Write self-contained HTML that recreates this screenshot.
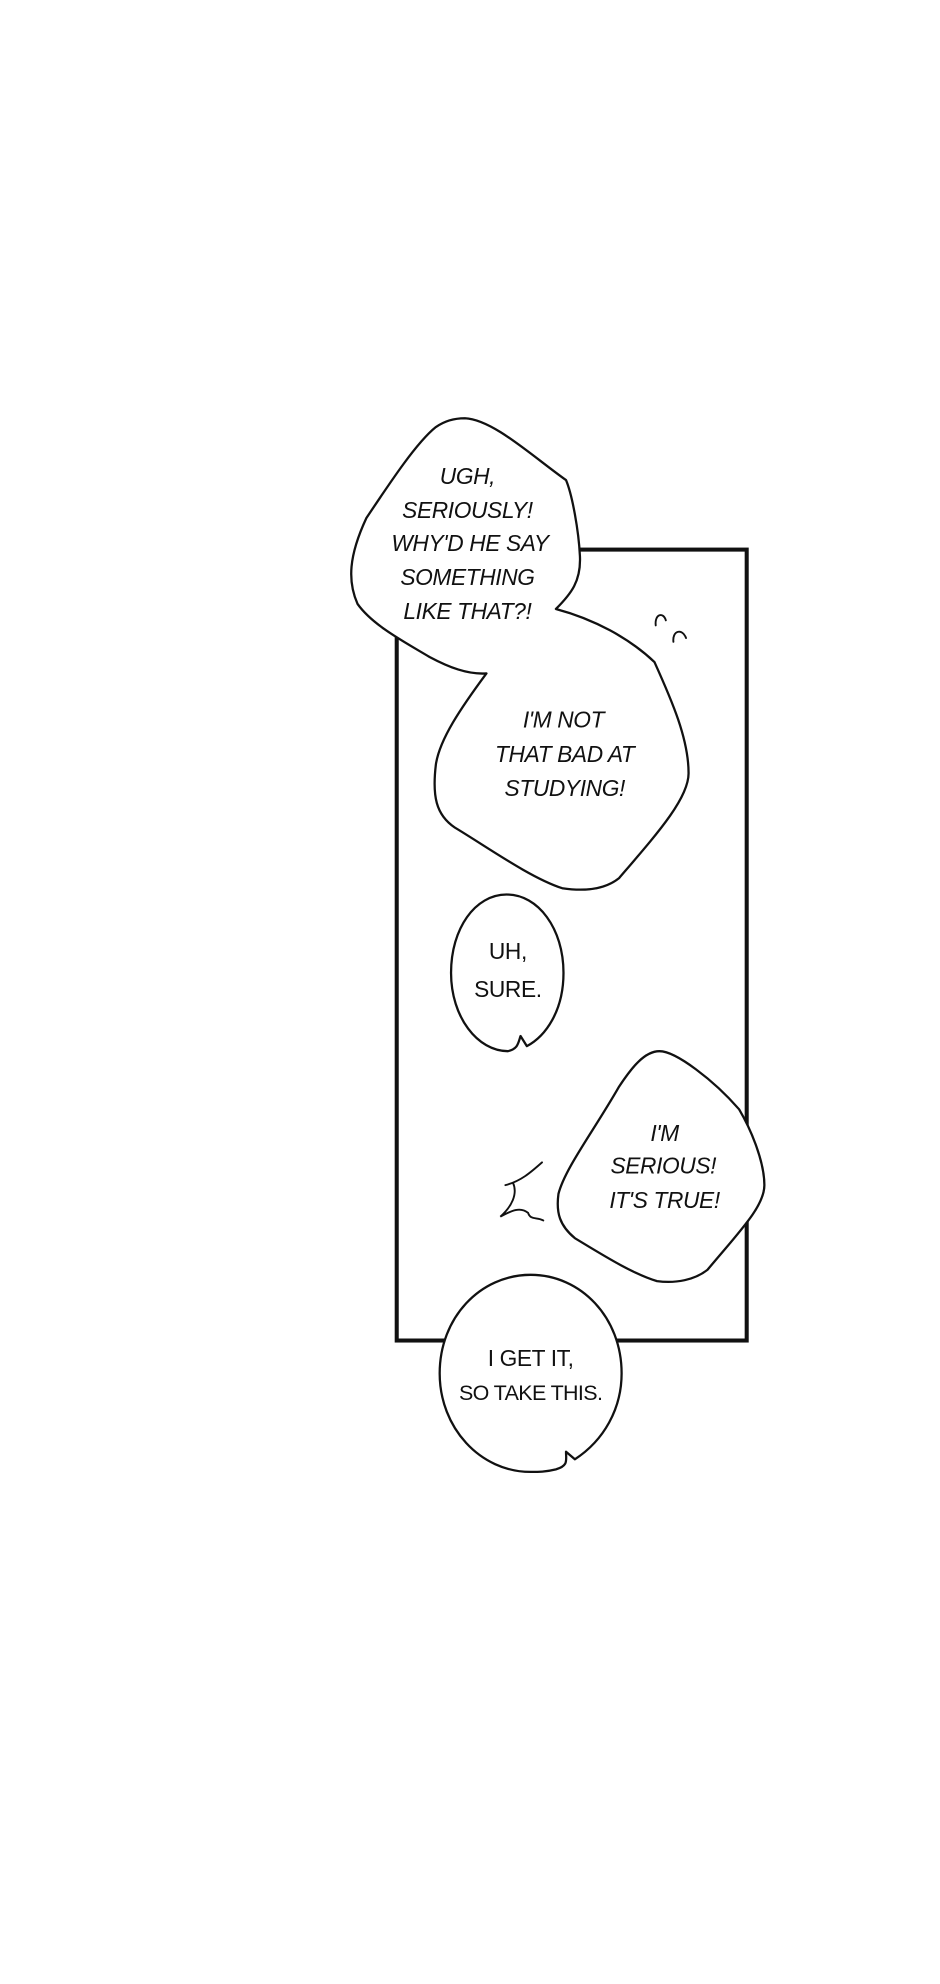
<!DOCTYPE html>
<html><head><meta charset="utf-8"><style>
html,body{margin:0;padding:0;background:#fff;}
svg{display:block;}
text{font-family:"Liberation Sans",sans-serif;font-size:18px;text-anchor:middle;fill:#111;letter-spacing:-0.3px;}
.i{font-style:italic;}
</style></head><body>
<svg width="940" height="1984" viewBox="0 0 744 1570.3" preserveAspectRatio="none" xmlns="http://www.w3.org/2000/svg">
<rect x="314" y="435" width="277" height="626" fill="#fff" stroke="#111" stroke-width="3.2"/>
<g fill="#fff" stroke="#111" stroke-width="1.8" stroke-linejoin="round">
<path d="M368,331 C390,332 420,360 448,380 C453,392 458,420 459,440 C460,460 452,470 440,482 C470,490 498,505 518,524 C532,555 545,585 545,612 C545,632 520,660 490,695 C480,703 465,706 445,703 C420,695 385,670 360,655 C345,645 342,630 345,605 C348,585 365,560 385,533 C370,534 355,528 340,520 C320,508 295,495 283,478 C275,460 276,440 290,410 C310,380 330,350 345,338 C352,333 360,331 368,331 Z"/>
<path d="M401,708 C426,708 446,735 446,770 C446,800 432,820 417,828 L412,820 C410,826 410,830 402,832 C378,832 357,805 357,770 C357,735 376,708 401,708 Z"/>
<path d="M522,832 C535,832 565,855 585,878 C595,895 605,920 605,938 C605,955 585,975 560,1005 C550,1013 535,1016 520,1014 C500,1008 475,992 455,980 C443,970 440,960 442,945 C447,925 470,895 490,860 C500,845 510,832 522,832 Z"/>
<path d="M420,1009 C460,1009 492,1043 492,1087 C492,1115 478,1140 455,1155 L448,1149 C448,1156 450,1160 440,1163 C432,1165 426,1165 420,1165 C380,1165 348,1130 348,1087 C348,1043 380,1009 420,1009 Z"/>
</g>
<g fill="none" stroke="#111" stroke-width="1.5" stroke-linecap="round">
<path d="M519,495 C518,486 525,484 527,491"/>
<path d="M533,508 C532,499 540,497 543,505"/>
<path d="M429,920 C420,928 412,935 400,938 M406,936 C410,945 405,955 396,963 C405,958 412,955 418,960 C420,966 425,963 430,966"/>
</g>
<g class="i">
<text x="370" y="383">UGH,</text>
<text x="370" y="410">SERIOUSLY!</text>
<text x="372" y="436">WHY'D HE SAY</text>
<text x="370" y="463">SOMETHING</text>
<text x="370" y="490">LIKE THAT?!</text>
<text x="446" y="576">I'M NOT</text>
<text x="447" y="603">THAT BAD AT</text>
<text x="447" y="630">STUDYING!</text>
<text x="526" y="903">I'M</text>
<text x="525" y="929">SERIOUS!</text>
<text x="526" y="956">IT'S TRUE!</text>
</g>
<text x="402" y="759">UH,</text>
<text x="402" y="789">SURE.</text>
<text x="420" y="1081">I GET IT,</text>
<text x="420" y="1108" style="font-size:17px;letter-spacing:-0.5px">SO TAKE THIS.</text>
</svg>
</body></html>
